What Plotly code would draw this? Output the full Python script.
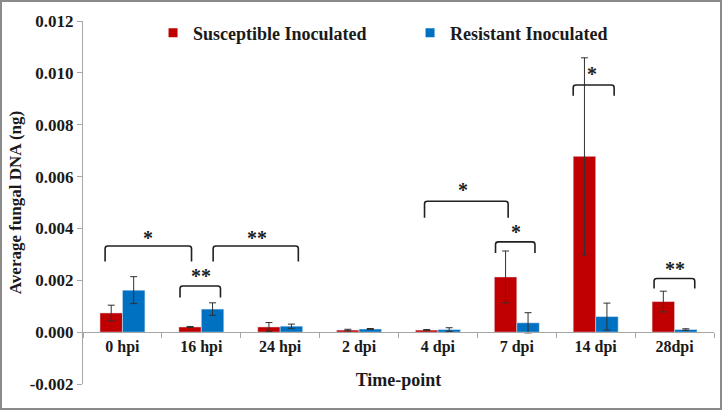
import plotly.graph_objects as go

# ---- data ----
categories = ["0 hpi", "16 hpi", "24 hpi", "2 dpi", "4 dpi", "7 dpi", "14 dpi", "28dpi"]
susceptible = [0.00074, 0.00020, 0.00020, 0.00008, 0.00008, 0.00213, 0.00678, 0.00118]
susceptible_err = [0.00030, 0.00002, 0.00017, 0.00003, 0.00002, 0.00100, 0.00380, 0.00040]
resistant = [0.00162, 0.00089, 0.00023, 0.00012, 0.00010, 0.00036, 0.00060, 0.00010]
resistant_err = [0.00052, 0.00024, 0.00008, 0.00002, 0.00007, 0.00039, 0.00052, 0.00003]

y_tickvals = [-0.002, 0.0, 0.002, 0.004, 0.006, 0.008, 0.010, 0.012]
y_ticktext = ["-0.002", "0.000", "0.002", "0.004", "0.006", "0.008", "0.010", "0.012"]

# significance brackets
bracket_x0 = [-0.22, 0.73, 1.15, 3.83, 4.73, 5.715, 6.74]
bracket_x1 = [0.876, 1.243, 2.23, 4.89, 5.23, 6.234, 7.256]
bracket_top = [0.00332, 0.00178, 0.00332, 0.00505, 0.00348, 0.00953, 0.00207]
bracket_bot = [0.00272, 0.00134, 0.00272, 0.00441, 0.00305, 0.00912, 0.00168]
bracket_label = ["*", "**", "**", "*", "*", "*", "**"]
label_x = [0.32, 1.0, 1.71, 4.32, 4.985, 5.95, 7.0]
label_y = [0.00362, 0.00218, 0.00362, 0.00549, 0.00385, 0.00997, 0.00243]

RED = "#C00000"
BLUE = "#0070C0"
FONT = "Liberation Serif, Times New Roman, serif"

fig = go.Figure()
fig.add_trace(go.Bar(
    name="Susceptible Inoculated", x=categories, y=susceptible, marker_color=RED,
    error_y=dict(type="data", array=susceptible_err, color="#303030", thickness=1, width=3.5),
    showlegend=False,
))
fig.add_trace(go.Bar(
    name="Resistant Inoculated", x=categories, y=resistant, marker_color=BLUE,
    error_y=dict(type="data", array=resistant_err, color="#303030", thickness=1, width=3.5),
    showlegend=False,
))
# legend entries with small square keys
for nm, col in [("Susceptible Inoculated", RED), ("Resistant Inoculated", BLUE)]:
    fig.add_trace(go.Scatter(
        name=nm, x=[None], y=[None], mode="markers",
        marker=dict(symbol="square", size=9, color=col), showlegend=True,
    ))

shapes = []
rx, ry = 0.035, 0.00010
for x0, x1, yt, yb in zip(bracket_x0, bracket_x1, bracket_top, bracket_bot):
    path = (f"M {x0},{yb} L {x0},{yt-ry} Q {x0},{yt} {x0+rx},{yt} "
            f"L {x1-rx},{yt} Q {x1},{yt} {x1},{yt-ry} L {x1},{yb}")
    shapes.append(dict(type="path", path=path, xref="x", yref="y",
                       line=dict(color="#202020", width=1.6)))

# outer border of the picture
L, R, T, B = 83, 8, 21, 26
PW, PH = 722 - L - R, 410 - T - B
shapes.append(dict(type="rect", xref="paper", yref="paper",
                   x0=(-L + 1) / PW, x1=1 + (R - 1) / PW,
                   y0=(-B + 1) / PH, y1=1 + (T - 1) / PH,
                   line=dict(color="#8a8a8a", width=2), layer="above"))

annotations = []
for lab, lx, ly in zip(bracket_label, label_x, label_y):
    annotations.append(dict(x=lx, y=ly, xref="x", yref="y", text=lab, showarrow=False,
                            font=dict(family=FONT, size=20, color="#202020", weight="bold")))

fig.update_layout(
    width=722, height=410,
    margin=dict(l=L, r=R, t=T, b=B),
    paper_bgcolor="white", plot_bgcolor="white",
    font=dict(family=FONT, color="#1a1a1a", weight="bold"),
    barmode="group", bargap=0.43, bargroupgap=0,
    showlegend=True,
    legend=dict(orientation="h", x=0.111, xanchor="left", y=0.967, yanchor="middle",
                font=dict(family=FONT, size=18, weight="bold"),
                entrywidth=212, entrywidthmode="pixels", bgcolor="rgba(0,0,0,0)",
                itemwidth=30),
    shapes=shapes, annotations=annotations,
)

fig.update_xaxes(
    anchor="free", position=0.002 / 0.014,
    showline=True, linecolor="#a6a6a6", linewidth=1,
    ticks="outside", tickson="boundaries", ticklen=5, tickcolor="#a6a6a6",
    tickfont=dict(family=FONT, size=16, weight="bold"),
    showgrid=False, zeroline=False,
    title=dict(text="Time-point", font=dict(family=FONT, size=18, weight="bold"), standoff=18),
    automargin=False,
)
fig.update_yaxes(
    range=[-0.002, 0.012],
    tickvals=y_tickvals, ticktext=y_ticktext,
    showline=True, linecolor="#a6a6a6", linewidth=1,
    ticks="outside", ticklen=5, tickcolor="#a6a6a6",
    tickfont=dict(family=FONT, size=17, weight="bold"),
    showgrid=False, zeroline=False,
    title=dict(text="Average fungal DNA (ng)", font=dict(family=FONT, size=17, weight="bold"), standoff=3),
    automargin=False,
)

fig.write_html("out.html", config={"displayModeBar": False},
               post_script="document.body.style.margin='0';")
